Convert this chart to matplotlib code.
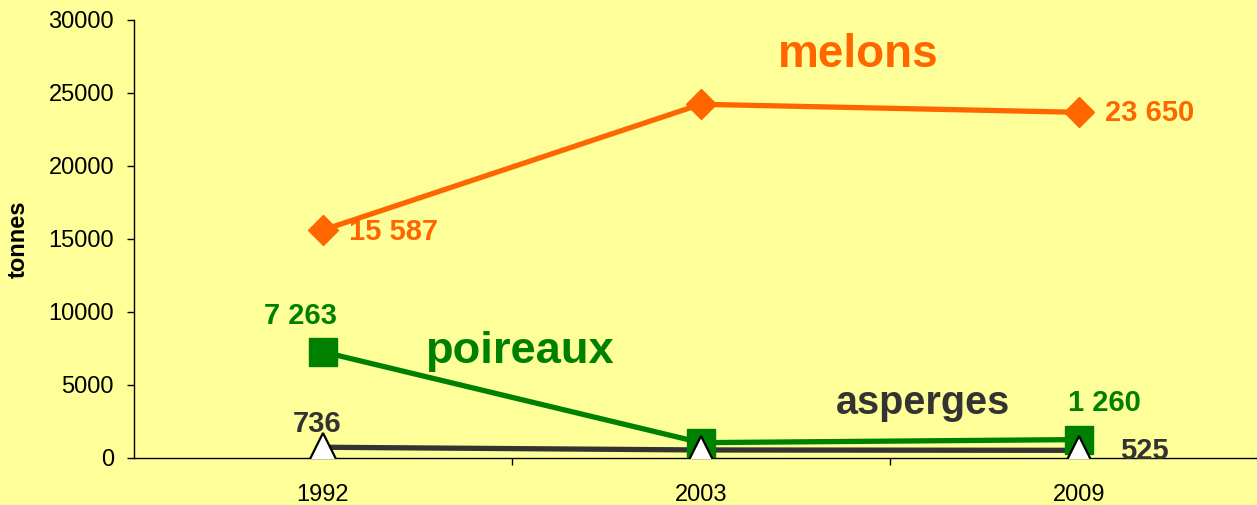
import matplotlib
matplotlib.use("Agg")
import matplotlib.pyplot as plt

years = ["1992", "2003", "2009"]
melons = [15587, 24200, 23650]
poireaux = [7263, 1050, 1260]
asperges = [736, 550, 525]
melons_labels = ["15 587", None, "23 650"]
poireaux_labels = ["7 263", None, "1 260"]
asperges_labels = ["736", None, "525"]
yticks = [0, 5000, 10000, 15000, 20000, 25000, 30000]

plt.rcParams['font.family'] = ['Liberation Sans', 'DejaVu Sans']
BG = "#FFFF99"
ORANGE = "#FF6600"
GREEN = "#008000"
DARK = "#333333"

fig = plt.figure(figsize=(12.57, 5.05), dpi=100, facecolor=BG)
ax = fig.add_axes([133.5/1257, 47/505, (1268-133.5)/1257, (458-19.5)/505])
ax.set_facecolor(BG)

x = list(range(len(years)))
ax.plot(x, melons, color=ORANGE, lw=3.8, marker='D', ms=15, mfc=ORANGE, mec=ORANGE, zorder=3)
ax.plot(x, poireaux, color=GREEN, lw=3.8, marker='s', ms=20, mfc=GREEN, mec=GREEN, zorder=4)
ax.plot(x, asperges, color=DARK, lw=3.8, zorder=3.5)
ax.plot(x, asperges, ls='none', marker='^', ms=19.5, mfc='white', mec='black', mew=1.6, zorder=5)

ax.set_xlim(-0.5, 2.5)
ax.set_ylim(0, 30000)
ax.set_yticks(yticks)
ax.set_yticklabels([str(v) for v in yticks], fontsize=17)
ax.set_xticks(x)
ax.set_xticklabels(years, fontsize=17)
ax.set_xticks([0.5, 1.5, 2.5], minor=True)
ax.tick_params(axis='x', which='major', length=0, pad=19)
ax.tick_params(axis='x', which='minor', length=5, width=1, direction='out')
ax.tick_params(axis='y', length=5, width=1, direction='out', pad=9)
for s in ['top', 'right']:
    ax.spines[s].set_visible(False)
for s in ['left', 'bottom']:
    ax.spines[s].set_linewidth(1)
    ax.spines[s].set_color('black')

ax.set_ylabel("tonnes", fontsize=17, fontweight='bold')
ax.yaxis.set_label_coords(-0.0912, 0.5)

def lab(vals, labels, color, offsets, has):
    for xi, v, l, off, ha in zip(x, vals, labels, offsets, has):
        if l is None:
            continue
        ax.annotate(l, (xi, v), xytext=off, textcoords='offset pixels', ha=ha, va='center',
                    fontsize=21, fontweight='bold', color=color, zorder=6)

lab(melons, melons_labels, ORANGE, [(26, -2), None, (26, -1)], ['left', None, 'left'])
lab(poireaux, poireaux_labels, GREEN, [(-22, 36), None, (26, 37)], ['center', None, 'center'])
lab(asperges, asperges_labels, DARK, [(-6, 23), None, (41, -1)], ['center', None, 'left'])

ax.text(1.415, 27571, "melons", color=ORANGE, fontsize=33, fontweight='bold', ha='center', va='center')
ax.text(0.521, 7252, "poireaux", color=GREEN, fontsize=32.6, fontweight='bold', ha='center', va='center')
ax.text(1.587, 3763, "asperges", color=DARK, fontsize=28.5, fontweight='bold', ha='center', va='center')

fig.savefig("out.png", dpi=100, facecolor=BG)
